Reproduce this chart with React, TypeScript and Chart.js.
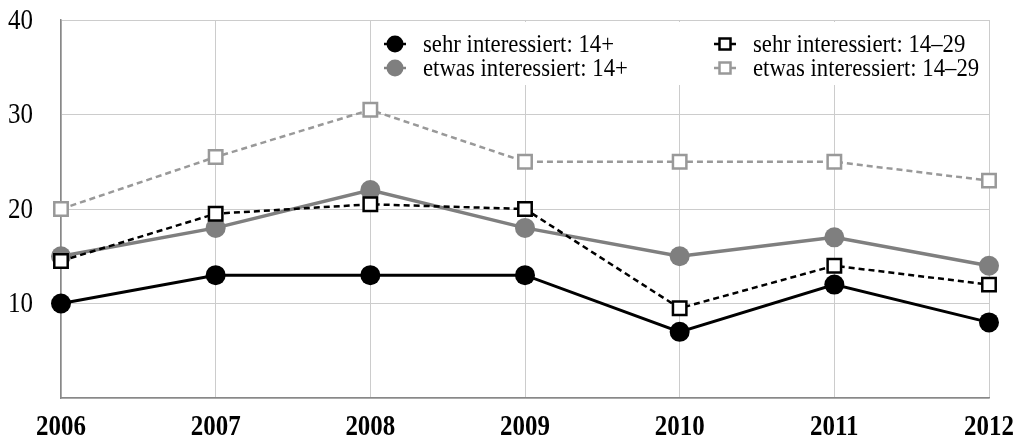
import React, { useEffect, useRef } from "react";
import { Chart, registerables } from "chart.js";

Chart.register(...registerables);

const years = ["2006", "2007", "2008", "2009", "2010", "2011", "2012"];
const sehr14plus = [10, 13, 13, 13, 7, 12, 8];
const etwas14plus = [15, 18, 22, 18, 15, 17, 14];
const sehr1429 = [14.5, 19.5, 20.5, 20, 9.5, 14, 12];
const etwas1429 = [20, 25.5, 30.5, 25, 25, 25, 23];
const yTicks = [10, 20, 30, 40];

const labelSehr14 = "sehr interessiert: 14+";
const labelEtwas14 = "etwas interessiert: 14+";
const labelSehr1429 = "sehr interessiert: 14–29";
const labelEtwas1429 = "etwas interessiert: 14–29";

const BLACK = "#000000";
const GRAY = "#7f7f7f";
const LGRAY = "#999999";

const axisLabelsPlugin = {
  id: "axisLabels",
  afterDraw(chart: any) {
    const ctx = chart.ctx;
    const xs = chart.scales.x;
    const ys = chart.scales.y;
    ctx.save();
    ctx.fillStyle = "#000";
    ctx.font = "bold 29px 'Liberation Serif'";
    ctx.textAlign = "center";
    ctx.textBaseline = "alphabetic";
    years.forEach((lab, i) => {
      const x = xs.getPixelForValue(i);
      ctx.save();
      ctx.translate(x, 435);
      ctx.scale(0.86, 1);
      ctx.fillText(lab, 0, 0);
      ctx.restore();
    });
    ctx.font = "29px 'Liberation Serif'";
    ctx.textAlign = "right";
    ctx.textBaseline = "middle";
    yTicks.forEach((v) => {
      const y = ys.getPixelForValue(v);
      ctx.save();
      ctx.translate(33, y + 1);
      ctx.scale(0.86, 1);
      ctx.fillText(String(v), 0, 0);
      ctx.restore();
    });
    ctx.restore();
  },
};

const legendPlugin = {
  id: "customLegend",
  afterDraw(chart: any) {
    const ctx = chart.ctx;
    ctx.save();
    ctx.fillStyle = "#fff";
    ctx.fillRect(373, 22, 615, 63);
    const items = [
      { ds: 0, x: 395, y: 44, text: labelSehr14 },
      { ds: 2, x: 395, y: 68, text: labelEtwas14 },
      { ds: 1, x: 725, y: 44, text: labelSehr1429 },
      { ds: 3, x: 725, y: 68, text: labelEtwas1429 },
    ];
    items.forEach((it) => {
      const d = chart.data.datasets[it.ds];
      ctx.save();
      ctx.strokeStyle = d.borderColor;
      ctx.lineWidth = 2.5;
      ctx.setLineDash([]);
      ctx.beginPath();
      ctx.moveTo(it.x - 11, it.y);
      ctx.lineTo(it.x + 11, it.y);
      ctx.stroke();
      if (d.pointStyle === "circle") {
        ctx.fillStyle = d.pointBackgroundColor;
        ctx.beginPath();
        ctx.arc(it.x, it.y, 8.5, 0, Math.PI * 2);
        ctx.fill();
      } else {
        ctx.fillStyle = "#fff";
        ctx.strokeStyle = d.pointBorderColor;
        ctx.lineWidth = 2.5;
        ctx.fillRect(it.x - 5.5, it.y - 5.5, 11, 11);
        ctx.strokeRect(it.x - 5.5, it.y - 5.5, 11, 11);
      }
      ctx.restore();
      ctx.save();
      ctx.fillStyle = "#000";
      ctx.font = "26px 'Liberation Serif'";
      ctx.textAlign = "left";
      ctx.textBaseline = "middle";
      ctx.translate(it.x + 28, it.y + 1);
      ctx.scale(0.875, 1);
      ctx.fillText(it.text, 0, 0);
      ctx.restore();
    });
    ctx.restore();
  },
};

export default function App() {
  const ref = useRef<HTMLCanvasElement>(null);
  useEffect(() => {
    document.body.style.margin = "0";
    const chart = new Chart(ref.current!, {
      type: "line",
      data: {
        labels: years,
        datasets: [
          {
            label: labelSehr14,
            data: sehr14plus,
            borderColor: BLACK,
            backgroundColor: BLACK,
            borderWidth: 3,
            pointStyle: "circle",
            pointRadius: 10,
            pointBackgroundColor: BLACK,
            pointBorderColor: BLACK,
            pointBorderWidth: 0,
            order: 2,
            clip: false,
          } as any,
          {
            label: labelSehr1429,
            data: sehr1429,
            borderColor: BLACK,
            backgroundColor: "#fff",
            borderWidth: 2.5,
            borderDash: [6, 4],
            pointStyle: "rect",
            pointRadius: 9.5,
            pointBackgroundColor: "#fff",
            pointBorderColor: BLACK,
            pointBorderWidth: 2.5,
            order: 1,
            clip: false,
          },
          {
            label: labelEtwas14,
            data: etwas14plus,
            borderColor: GRAY,
            backgroundColor: GRAY,
            borderWidth: 3.5,
            pointStyle: "circle",
            pointRadius: 10,
            pointBackgroundColor: GRAY,
            pointBorderColor: GRAY,
            pointBorderWidth: 0,
            order: 3,
            clip: false,
          },
          {
            label: labelEtwas1429,
            data: etwas1429,
            borderColor: LGRAY,
            backgroundColor: "#fff",
            borderWidth: 2.5,
            borderDash: [6, 4],
            pointStyle: "rect",
            pointRadius: 9.5,
            pointBackgroundColor: "#fff",
            pointBorderColor: LGRAY,
            pointBorderWidth: 2.5,
            order: 4,
            clip: false,
          },
        ],
      },
      options: {
        animation: false,
        responsive: false,
        maintainAspectRatio: false,
        layout: { padding: { left: 9, right: 29, top: 20, bottom: 38 } },
        plugins: { legend: { display: false }, tooltip: { enabled: false } },
        scales: {
          x: {
            type: "category",
            offset: false,
            grid: { color: "#cccccc", lineWidth: 1, drawTicks: false },
            border: { color: "#888888", width: 1.5 },
            ticks: { display: false },
            afterFit: (axis: any) => {
              axis.height = 0;
              axis.paddingLeft = 0;
              axis.paddingRight = 0;
            },
          },
          y: {
            min: 0,
            max: 40,
            afterBuildTicks: (axis: any) => {
              axis.ticks = [{ value: 0 }, ...yTicks.map((v) => ({ value: v }))];
            },
            afterFit: (axis: any) => {
              axis.width = 52;
              axis.paddingTop = 0;
              axis.paddingBottom = 0;
            },
            grid: { color: "#cccccc", lineWidth: 1, drawTicks: false },
            border: { color: "#888888", width: 1.5 },
            ticks: { display: false },
          },
        },
      },
      plugins: [axisLabelsPlugin, legendPlugin],
    });
    return () => chart.destroy();
  }, []);
  return (
    <div style={{ position: "absolute", left: 0, top: 0, width: 1018, height: 436, background: "#fff" }}>
      <canvas ref={ref} width={1018} height={436} style={{ width: 1018, height: 436, display: "block" }} />
    </div>
  );
}
